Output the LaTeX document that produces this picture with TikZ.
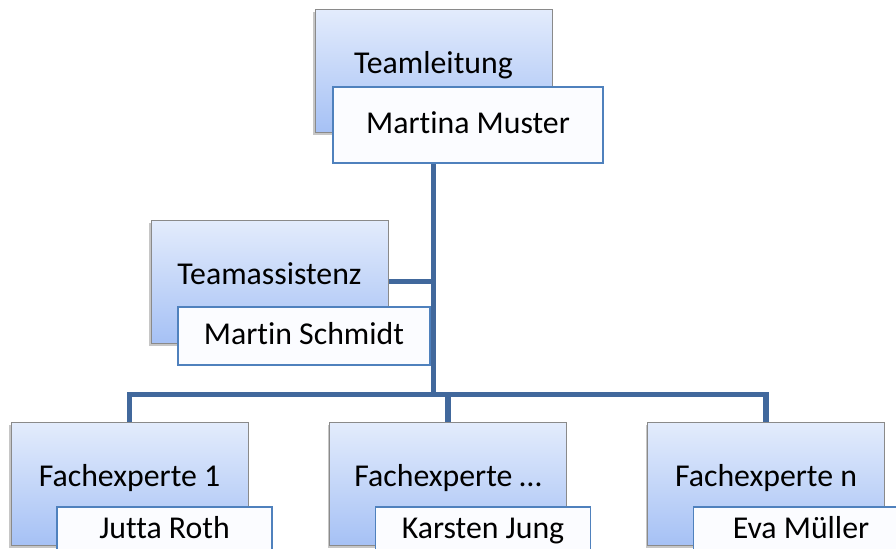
\documentclass[tikz,border=0pt]{standalone}
\usepackage{fontspec}
\setmainfont{Carlito}[Ligatures={NoCommon}]
\usepackage{tikz}
\usepackage{xcolor}
\definecolor{roletop}{HTML}{E3ECFC}
\definecolor{rolebot}{HTML}{A6C1F5}
\definecolor{roleline}{HTML}{8A8A8A}
\definecolor{nameline}{HTML}{4F81BD}
\definecolor{namefill}{HTML}{FBFCFF}
\definecolor{linkblue}{HTML}{41689C}
\tikzset{role/.style={draw=roleline, top color=roletop, bottom color=rolebot,
   minimum width=118.5pt, minimum height=61.5pt, inner sep=0pt,
   text height=11pt, text depth=8.5pt,
   drop shadow={shadow xshift=-1pt, shadow yshift=-1.5pt, opacity=.45}},
 person/.style={draw=nameline, line width=0.6pt, fill=namefill,
   minimum height=29pt, inner sep=0pt, text height=11pt, text depth=#1},
 person/.default=3pt,
 link/.style={draw=linkblue, line width=2.6pt},
 }
\usetikzlibrary{backgrounds}
\usetikzlibrary{shadows}

\begin{document}
\begin{tikzpicture}[x=0.5pt, y=-0.5pt, font=\fontsize{15.9}{18}\selectfont]
        \clip (0,0) rectangle (896,548);

        \node[role] (lead) at (433.5, 70.5) {Teamleitung};
        \node[person, minimum width=135pt, minimum height=38pt] (leadname) at (468, 125) {Martina Muster};

        \node[role] (assist) at (269.5, 281.5) {Teamassistenz};
        \node[person, minimum width=126pt] (assistname) at (304, 336) {Martin Schmidt};

        \foreach \x/\who/\n[count=\i] in {129.5/Jutta Roth/1, 448/Karsten Jung/\dots, 766/Eva Müller/n} {
            \node[role] (e\i) at (\x, 483.5) {Fachexperte \n};
            \node[person=9pt, minimum width=107.5pt] (e\i name) at (\x+35, 536) {\who};
        }

        \coordinate (bus) at (433.5, 394.5);

        \begin{scope}[on background layer]
        \draw[link] (leadname.south -| lead) -- (bus);
        \draw[link] (assist.east) -- (assist.east -| bus);
        \draw[link] (e1.north) |- (bus) -| (e3.north);
        \draw[link] (e2.north) -- (e2.north |- bus);
        \end{scope}
    \end{tikzpicture}
\end{document}
